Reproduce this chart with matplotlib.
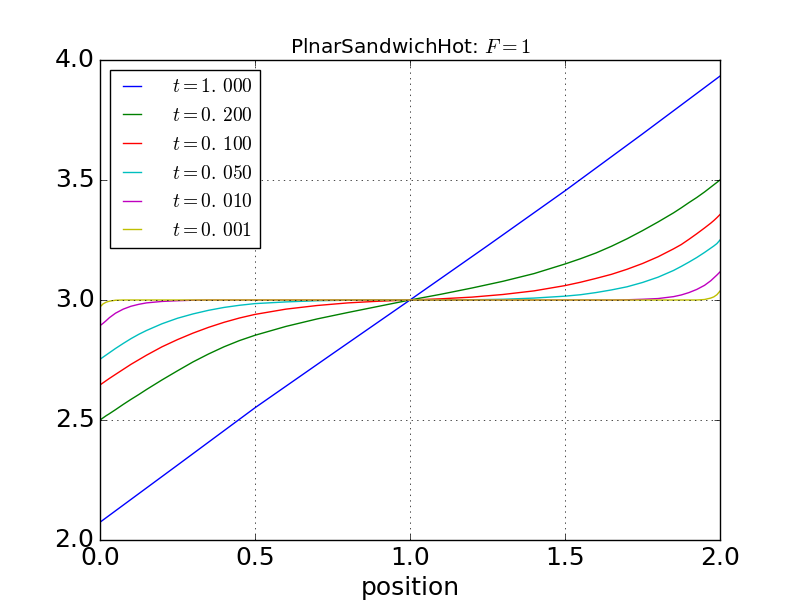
import matplotlib
matplotlib.use('Agg')
import matplotlib.pyplot as plt

position = [0.0, 0.01, 0.02, 0.03, 0.05, 0.075, 0.1, 0.125, 0.15, 0.2, 0.25,
            0.3, 0.35, 0.4, 0.45, 0.5, 0.6, 0.7, 0.8, 0.9, 1.0,
            1.1, 1.2, 1.3, 1.4, 1.5, 1.55, 1.6, 1.65, 1.7, 1.75,
            1.8, 1.85, 1.875, 1.9, 1.925, 1.95, 1.97, 1.98, 1.99, 2.0]

# t = 1.000 is almost straight, fewer points needed
position_t1 = [0.0, 0.25, 0.5, 0.75, 1.0, 1.25, 1.5, 1.75, 2.0]
temp_t1000 = [2.074, 2.312, 2.551, 2.776, 3.0, 3.226, 3.455, 3.692, 3.933]

temp_t0200 = [2.500, 2.509, 2.518, 2.526, 2.543, 2.565, 2.586, 2.606, 2.627, 2.667, 2.705,
              2.742, 2.775, 2.805, 2.831, 2.853, 2.890, 2.921, 2.948, 2.974, 3.000,
              3.024, 3.050, 3.078, 3.110, 3.150, 3.172, 3.196, 3.224, 3.255, 3.289,
              3.325, 3.363, 3.384, 3.406, 3.427, 3.450, 3.470, 3.480, 3.490, 3.500]

temp_t0100 = [2.646, 2.655, 2.664, 2.673, 2.690, 2.711, 2.732, 2.751, 2.770, 2.805, 2.835,
              2.862, 2.886, 2.907, 2.925, 2.940, 2.962, 2.977, 2.988, 2.995, 3.000,
              3.005, 3.012, 3.023, 3.038, 3.060, 3.074, 3.090, 3.107, 3.128, 3.152,
              3.180, 3.213, 3.231, 3.253, 3.276, 3.300, 3.320, 3.331, 3.343, 3.356]

temp_t0050 = [2.753, 2.762, 2.771, 2.780, 2.798, 2.819, 2.839, 2.857, 2.873, 2.901, 2.924,
              2.942, 2.957, 2.969, 2.978, 2.985, 2.992, 2.997, 2.999, 3.000, 3.000,
              3.000, 3.001, 3.003, 3.008, 3.016, 3.022, 3.031, 3.042, 3.055, 3.073,
              3.095, 3.123, 3.140, 3.158, 3.177, 3.198, 3.216, 3.225, 3.235, 3.250]

temp_t0010 = [2.893, 2.903, 2.914, 2.926, 2.945, 2.962, 2.974, 2.982, 2.988, 2.994, 2.997,
              2.999, 3.000, 3.000, 3.000, 3.000, 3.000, 3.000, 3.000, 3.000, 3.000,
              3.000, 3.000, 3.000, 3.000, 3.000, 3.000, 3.000, 3.000, 3.001, 3.003,
              3.006, 3.014, 3.021, 3.031, 3.044, 3.061, 3.080, 3.092, 3.104, 3.117]

temp_t0001 = [2.971, 2.984, 2.991, 2.995, 2.999, 3.000, 3.000, 3.000, 3.000, 3.000, 3.000,
              3.000, 3.000, 3.000, 3.000, 3.000, 3.000, 3.000, 3.000, 3.000, 3.000,
              3.000, 3.000, 3.000, 3.000, 3.000, 3.000, 3.000, 3.000, 3.000, 3.000,
              3.000, 3.000, 3.000, 3.000, 3.000, 3.002, 3.008, 3.013, 3.022, 3.037]

# old mathtext put a gap after the decimal point
labels = [r'$t=1.\,000$', r'$t=0.\,200$', r'$t=0.\,100$',
          r'$t=0.\,050$', r'$t=0.\,010$', r'$t=0.\,001$']

plt.style.use('classic')

fig = plt.figure(figsize=(8, 6), dpi=100)
ax = fig.add_subplot(111)

ax.plot(position_t1, temp_t1000, 'b', label=labels[0])
ax.plot(position, temp_t0200, 'g', label=labels[1])
ax.plot(position, temp_t0100, 'r', label=labels[2])
ax.plot(position, temp_t0050, 'c', label=labels[3])
ax.plot(position, temp_t0010, 'm', label=labels[4])
ax.plot(position, temp_t0001, 'y', label=labels[5])

ax.set_xlim(0, 2)
ax.set_ylim(2, 4)
ax.set_xticks([0.0, 0.5, 1.0, 1.5, 2.0])
ax.set_yticks([2.0, 2.5, 3.0, 3.5, 4.0])
ax.tick_params(labelsize=18)
ax.grid(True)

ax.set_title(r'PlnarSandwichHot: $F=1$', fontsize=14.4)
ax.set_xlabel('position', fontsize=18)
ax.legend(loc='upper left', fontsize=14, handlelength=1.5, handletextpad=1.3)

plt.savefig('out.png', dpi=100)
